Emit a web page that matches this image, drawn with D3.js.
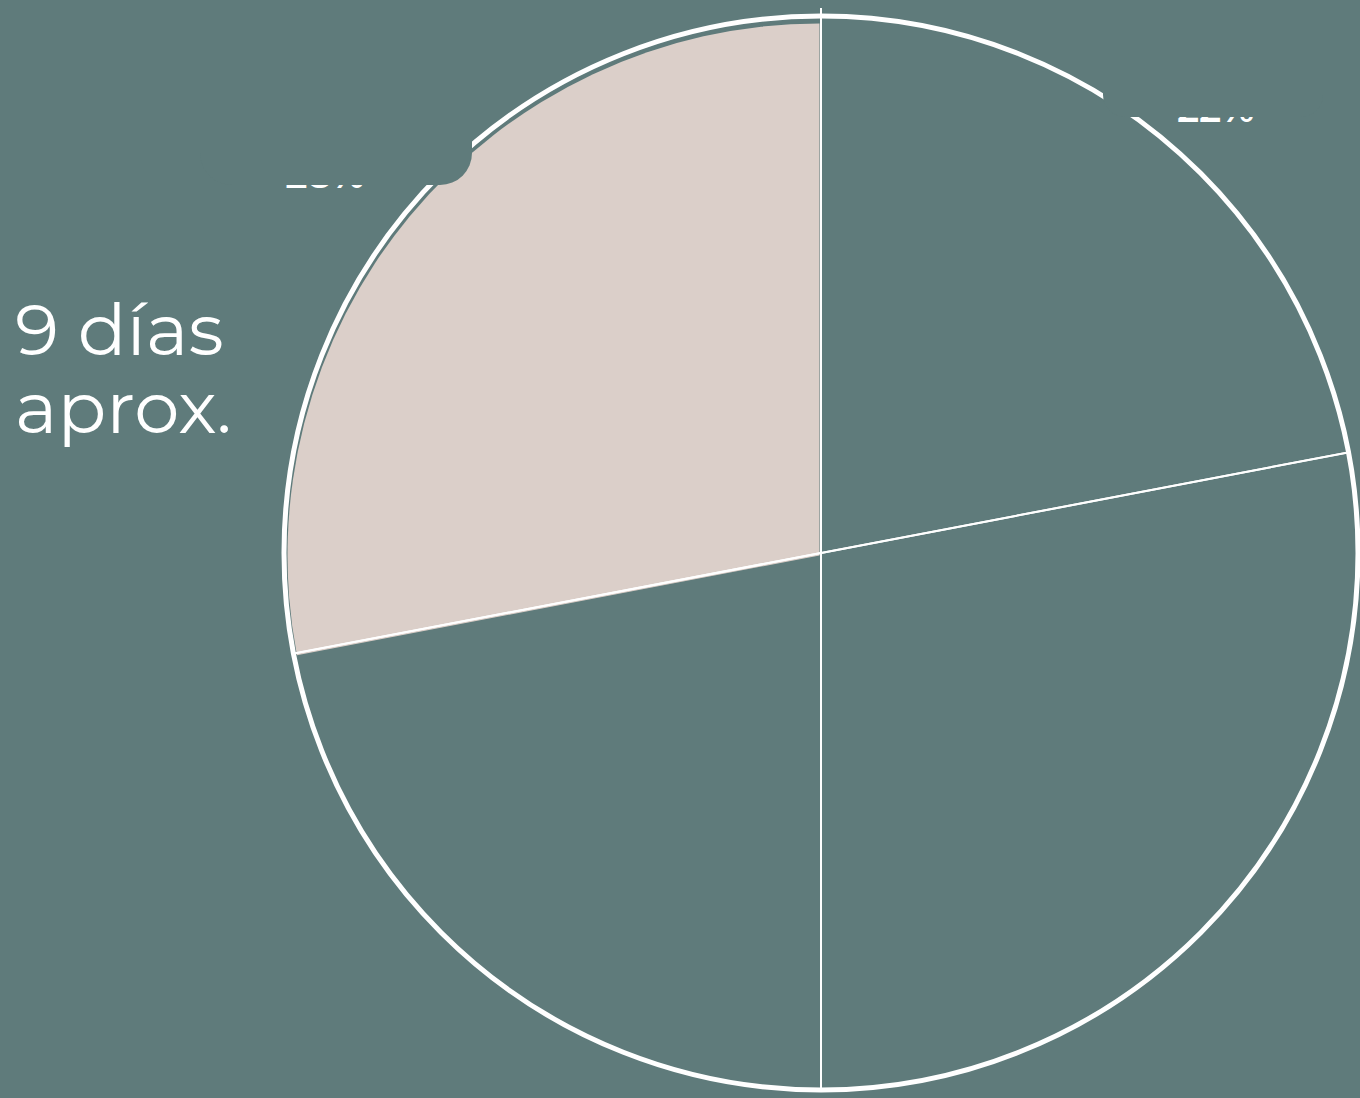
<!DOCTYPE html>
<html>
<head>
<meta charset="utf-8">
<script src="https://cdn.jsdelivr.net/npm/d3@7"></script>
<style>
  body{margin:0;background:#5f7b7b;overflow:hidden;}
  svg{display:block;}
</style>
</head>
<body>
<svg id="chart" width="1360" height="1098"></svg>
<script>
//slices of the pie, clockwise from 12 o'clock
var slices = ['a','b','c','d'];
var values = [22, 28, 22, 28];
var labels = ['22%', '28%', '22%', '28%'];
var labelled = ['a','d'];   //only these labels show in the picture
var highlighted = 'd';
var titleLines = ['9 días', 'aprox.'];

var bg = '#5f7b7b', pink = '#dbcfc9';
var cx = 821, cy = 553, R = 537;

var svg = d3.select('#chart');
svg.append('rect').attr('width',1360).attr('height',1098).attr('fill',bg);

var pie = d3.pie().sort(null).value(function(d){return d.value});
var arcs = pie(slices.map(function(s,i){return {key:s,value:values[i],label:labels[i]}}));

var arc = d3.arc().innerRadius(0).outerRadius(R);
var arcHi = d3.arc().innerRadius(0).outerRadius(R - 5);

var g = svg.append('g').attr('transform','translate(' + cx + ',' + cy + ')');

//fills
g.selectAll('path.fill').data(arcs).enter().append('path')
  .attr('class','fill')
  .attr('d',function(d){return d.data.key === highlighted ? arcHi(d) : arc(d)})
  .attr('transform',function(d){return d.data.key === highlighted ? 'translate(-1.5,2.5)' : null})
  .attr('fill',function(d){return d.data.key === highlighted ? pink : bg});

//white edges drawn over the fills
g.selectAll('path.edge').data(arcs).enter().append('path')
  .attr('class','edge')
  .attr('d',arc)
  .attr('fill','none')
  .attr('stroke','#fff')
  .attr('stroke-width',2);

//small tick on top of the ring
g.append('line').attr('x1',0).attr('x2',0).attr('y1',-R-8).attr('y2',-R).attr('stroke','#fff').attr('stroke-width',2);

//outer ring
g.append('circle').attr('r',R).attr('fill','none').attr('stroke','#fff').attr('stroke-width',5);

//percentage labels outside the ring
var labelR = function(d){return d.data.key === highlighted ? 644 : 619};
g.selectAll('text.pct').data(arcs.filter(function(d){return labelled.indexOf(d.data.key) !== -1})).enter().append('text')
  .attr('class','pct')
  .attr('x',function(d){return d3.arc().innerRadius(labelR(d)).outerRadius(labelR(d)).centroid(d)[0]})
  .attr('y',function(d){return d3.arc().innerRadius(labelR(d)).outerRadius(labelR(d)).centroid(d)[1]})
  .attr('dy','1.2em')
  .attr('text-anchor','middle')
  .attr('font-family','Montserrat, "Open Sans", sans-serif')
  .attr('font-weight',600)
  .attr('font-size',38)
  .attr('fill','#fff')
  .text(function(d){return d.data.label});

//label boxes in background colour hide most of the labels
svg.append('rect').attr('x',200).attr('y',-40).attr('width',272).attr('height',225).attr('rx',32).attr('fill',bg);
svg.append('rect').attr('x',1103).attr('y',-40).attr('width',220).attr('height',157).attr('rx',22).attr('fill',bg);

//title
svg.append('text')
  .attr('x',15).attr('y',355)
  .attr('font-family','Montserrat, "Open Sans", sans-serif')
  .attr('font-size',72)
  .attr('fill','#fff')
  .selectAll('tspan').data(titleLines).enter().append('tspan')
  .attr('x',15)
  .attr('dy',function(d,i){return i === 0 ? 0 : 78})
  .text(function(d){return d});
</script>
</body>
</html>
